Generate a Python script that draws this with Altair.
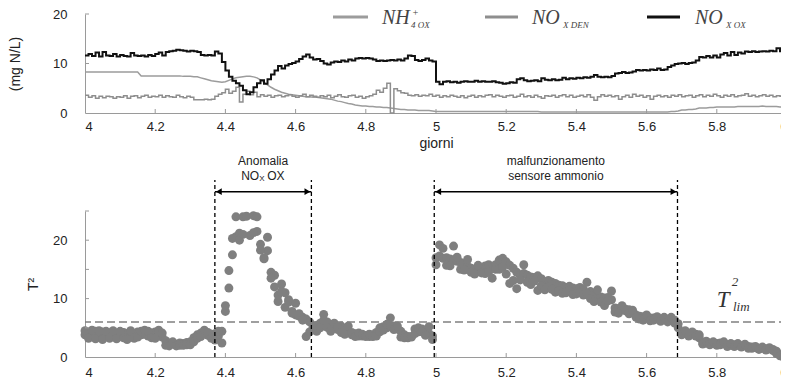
import altair as alt
import pandas as pd

# ---------------- data ----------------
days = [round(4 + 0.01 * i, 2) for i in range(201)]  # sampling times (giorni)

nh4_ox = [
    8.3, 8.3, 8.3, 8.3, 8.3, 8.3, 8.3, 8.3, 8.3, 8.3,
    8.3, 8.3, 8.3, 8.3, 8.3, 8.3, 7.5, 7.5, 7.5, 7.5,
    7.5, 7.5, 7.5, 7.5, 7.5, 7.5, 7.5, 7.5, 7.4, 7.4,
    7.4, 7.3, 7.3, 7.1, 6.9, 6.7, 6.5, 6.4, 6.3, 6.2,
    6.3, 6.6, 6.9, 7.1, 7.2, 7.3, 7.4, 7.4, 7.3, 7.1,
    6.7, 6.2, 5.7, 5.2, 4.8, 4.5, 4.2, 4.0, 3.8, 3.7,
    3.6, 3.5, 3.4, 3.3, 3.3, 3.2, 3.2, 3.1, 3.0, 2.9,
    2.8, 2.6, 2.4, 2.3, 2.1, 1.9, 1.8, 1.6, 1.5, 1.4,
    1.4, 1.3, 1.3, 1.2, 1.2, 1.1, 1.1, 1.0, 0.9, 0.8,
    0.7, 0.7, 0.6, 0.6, 0.6, 0.5, 0.5, 0.5, 0.5, 0.4,
    0.3, 0.3, 0.3, 0.3, 0.3, 0.3, 0.3, 0.3, 0.3, 0.3,
    0.3, 0.3, 0.3, 0.3, 0.3, 0.3, 0.3, 0.3, 0.3, 0.3,
    0.3, 0.3, 0.3, 0.3, 0.3, 0.3, 0.3, 0.3, 0.3, 0.3,
    0.2, 0.2, 0.2, 0.2, 0.2, 0.2, 0.2, 0.2, 0.2, 0.2,
    0.2, 0.2, 0.2, 0.2, 0.2, 0.2, 0.2, 0.2, 0.2, 0.2,
    0.2, 0.2, 0.2, 0.2, 0.2, 0.2, 0.2, 0.2, 0.2, 0.2,
    0.2, 0.2, 0.2, 0.2, 0.2, 0.2, 0.2, 0.3, 0.3, 0.4,
    0.6, 0.6, 0.7, 0.7, 0.8, 1.0, 1.0, 1.0, 1.1, 1.1,
    1.2, 1.2, 1.2, 1.2, 1.2, 1.2, 1.3, 1.3, 1.3, 1.3,
    1.3, 1.3, 1.3, 1.4, 1.3, 1.3, 1.3, 1.3, 1.2, 1.2,
    1.2,
]

nox_den = [
    3.6, 3.2, 3.5, 3.0, 3.4, 3.1, 3.4, 3.3, 3.0, 3.3,
    3.2, 3.5, 3.0, 3.4, 3.5, 3.1, 3.4, 3.6, 3.2, 3.4,
    3.3, 3.6, 3.2, 3.5, 3.3, 3.2, 3.6, 3.3, 3.1, 3.4,
    3.2, 2.7, 2.7, 2.7, 2.8, 2.7, 2.8, 3.4, 3.8, 4.1,
    4.8, 4.0, 4.4, 5.2, 2.2, 3.8, 4.4, 3.7, 4.2, 3.3,
    3.7, 3.4, 3.6, 3.2, 3.5, 3.6, 3.3, 3.5, 3.7, 3.4,
    3.2, 3.5, 3.8, 3.3, 3.6, 3.4, 3.2, 3.5, 3.3, 3.6,
    3.1, 3.4, 3.7, 3.3, 3.2, 3.5, 3.6, 3.2, 3.4, 3.0,
    3.3, 3.5, 3.8, 4.6, 4.2, 5.0, 6.0, 0.0, 4.9, 4.5,
    4.1, 4.0, 3.6, 3.5, 3.7, 3.4, 3.6, 3.5, 3.8, 3.4,
    3.6, 3.2, 3.5, 3.3, 3.6, 3.4, 3.2, 3.5, 3.1, 3.4,
    3.6, 3.2, 3.5, 3.3, 3.6, 3.7, 3.3, 3.6, 3.4, 3.2,
    3.5, 3.6, 3.2, 3.4, 3.8, 3.3, 3.5, 3.2, 3.6, 3.3,
    3.0, 3.5, 3.4, 3.6, 3.2, 3.5, 3.7, 3.3, 3.6, 3.2,
    3.4, 3.6, 3.3, 3.7, 3.2, 2.6, 3.3, 3.7, 3.4, 3.6,
    3.3, 3.5, 2.8, 3.3, 3.6, 3.2, 3.8, 3.4, 3.6, 3.2,
    3.5, 2.8, 3.4, 3.6, 3.3, 3.5, 3.2, 3.6, 3.4, 3.7,
    3.3, 3.5, 3.6, 3.2, 3.5, 3.7, 3.3, 3.6, 3.4, 3.8,
    3.5, 3.2, 3.6, 3.4, 3.7, 3.3, 3.5, 3.6, 3.9, 3.4,
    3.6, 3.3, 3.5, 3.7, 3.4, 3.6, 3.3, 3.5, 3.4, 3.6,
    3.3,
]

nox_ox = [
    11.6, 11.9, 11.5, 12.2, 11.4, 12.3, 11.6, 11.5, 11.9, 11.4,
    11.7, 11.5, 11.4, 12.1, 11.6, 11.5, 11.6, 11.4, 11.7, 11.5,
    11.9, 12.2, 11.6, 12.3, 12.5, 12.6, 12.8, 12.7, 12.6, 12.4,
    12.6, 12.5, 12.3, 11.7, 11.6, 11.7, 11.6, 12.4, 12.0, 10.3,
    8.6, 7.3, 6.5, 6.0, 5.5, 4.6, 3.8, 4.2, 5.2, 6.0,
    6.6, 5.9, 6.8, 7.8, 8.6, 9.5, 9.0, 9.6, 9.9, 10.1,
    10.4, 10.9, 11.4, 11.8, 11.2, 10.8, 10.9, 10.5, 10.0, 9.8,
    10.2, 10.4, 10.3, 10.6, 10.4, 10.8, 10.6, 11.0, 11.1, 11.0,
    11.1, 11.0, 10.8, 10.5, 10.6, 10.5, 10.6, 10.7, 10.6, 10.8,
    10.6, 11.0, 11.6, 11.5, 10.7, 10.5, 10.7, 11.0, 10.6, 10.4,
    6.3, 5.8, 6.3, 6.4, 6.2, 6.3, 6.1, 6.3, 6.4, 6.3,
    6.3, 6.5, 6.3, 6.4, 6.3, 6.3, 6.4, 6.2, 6.1, 5.9,
    6.0, 6.2, 6.1, 6.8, 7.0, 6.6, 6.4, 6.5, 6.6, 6.4,
    7.0, 6.7, 6.6, 6.8, 6.6, 6.7, 7.1, 6.8, 7.0, 6.9,
    7.1, 7.0, 7.2, 7.1, 7.3, 7.7, 7.3, 7.2, 7.3, 7.2,
    7.5, 8.0, 8.1, 8.3, 8.1, 8.2, 8.4, 8.7, 8.6, 8.7,
    8.6, 8.8, 8.7, 9.0, 8.7, 8.8, 9.3, 9.6, 9.9, 10.0,
    10.1, 9.9, 10.1, 10.2, 10.6, 11.3, 11.2, 11.5, 11.2, 11.6,
    11.2, 11.8, 12.1, 11.6, 12.3, 11.7, 12.2, 12.0, 12.4, 12.3,
    12.5, 12.3, 12.4, 12.5, 12.4, 12.6, 12.5, 13.1, 12.5, 12.5,
    12.5,
]

t2_a = [
    3.8, 4.2, 3.9, 4.4, 3.6, 4.3, 3.9, 4.1, 3.8, 4.0,
    3.6, 4.2, 4.0, 3.7, 3.9, 4.3, 3.8, 3.9, 3.6, 4.1,
    4.3, 3.9, 3.4, 2.8, 2.4, 2.3, 2.2, 2.4, 2.3, 2.5,
    2.6, 3.3, 3.8, 4.1, 4.2, 3.7, 3.9, 4.0, 3.6, 4.4,
    7.8, 11.8, 17.5, 20.6, 21.2, 24.0, 24.1, 20.8, 24.2, 21.5,
    19.3, 16.8, 18.2, 14.5, 14.0, 9.5, 12.5, 11.0, 9.8, 7.8,
    7.2, 7.0, 6.8, 6.5, 6.0, 5.0, 5.4, 5.8, 7.3, 6.0,
    5.3, 5.0, 4.7, 5.3, 4.5, 4.2, 3.8, 4.0, 3.6, 3.6,
    3.7, 3.5, 3.8, 4.2, 5.0, 5.2, 5.0, 6.7, 5.3, 4.8,
    4.4, 3.8, 3.3, 3.4, 4.8, 4.3, 4.8, 4.5, 4.0, 3.6,
    17.0, 17.3, 16.9, 17.0, 16.8, 16.6, 16.4, 16.2, 15.8, 15.5,
    15.2, 15.0, 14.6, 14.9, 15.6, 15.8, 15.4, 15.8, 16.6, 16.9,
    16.3, 15.7, 15.2, 14.5, 14.0, 14.3, 14.0, 13.7, 13.6, 13.9,
    13.4, 12.9, 13.1, 12.8, 12.6, 12.3, 12.2, 11.9, 12.1, 11.8,
    11.7, 11.9, 11.6, 12.8, 11.2, 10.5, 10.2, 10.3, 10.1, 10.2,
    9.8, 8.4, 8.3, 8.3, 8.2, 8.1, 7.6, 7.2, 7.0, 6.9,
    6.8, 6.7, 6.7, 6.6, 6.5, 6.5, 6.4, 6.4, 6.3, 5.0,
    4.2, 4.1, 4.0, 4.0, 3.9, 3.3, 2.5, 2.4, 2.4, 2.3,
    2.3, 2.4, 2.3, 2.1, 2.0, 2.1, 2.0, 1.9, 2.0, 1.8,
    1.7, 1.6, 1.5, 1.5, 1.4, 1.4, 1.3, 1.0, 0.4, 0.3,
    0.2,
]

t2_b = [
    4.5, 3.2, 4.6, 3.1, 4.5, 3.0, 4.4, 3.2, 4.5, 3.1,
    4.4, 3.3, 3.0, 4.5, 3.2, 3.4, 4.4, 4.6, 4.4, 3.3,
    3.2, 4.6, 4.1, 2.0, 1.9, 2.6, 1.9, 2.0, 2.0, 2.1,
    2.1, 2.6, 3.2, 3.5, 4.6, 4.2, 3.2, 2.9, 4.4, 2.4,
    8.8, 14.8, 20.3, 24.0, 20.0, 21.0, None, None, 21.3, 24.0,
    18.3, 17.0, 20.5, 13.5, 12.0, 10.6, 11.2, 8.5, 9.4, 7.5,
    9.2, 7.4, 6.3, 3.5, 4.3, 5.2, 4.4, 5.0, 6.3, 5.1,
    4.4, 5.8, 5.2, 4.2, 3.9, 5.3, 4.2, 3.5, 4.1, 3.9,
    3.5, 3.9, 3.5, 3.6, 4.3, 4.6, 5.6, 5.4, 4.7, 5.3,
    3.4, 3.3, 3.5, 3.5, 4.0, 5.0, 4.3, 3.7, 5.2, 3.0,
    15.8, 19.2, 18.6, 15.7, 15.6, 19.0, 17.1, 15.0, 14.9, 16.7,
    14.5, 14.2, 15.7, 14.4, 14.3, 14.6, 13.5, 15.0, 15.0, 15.4,
    14.2, 12.6, 13.1, 11.7, 13.2, 15.8, 12.8, 12.4, 13.0, 11.4,
    12.2, 11.5, 12.0, 11.6, 11.1, 11.3, 10.9, 11.0, 11.3, 10.7,
    10.8, 11.0, 10.6, 10.9, 10.0, 9.5, 11.5, 9.4, 8.8, 9.6,
    11.3, 7.7, 7.5, 8.8, 7.9, 7.4, 8.0, 6.8, 6.5, 6.3,
    7.2, 6.2, 6.3, 6.9, 6.1, 6.8, 6.0, 6.8, 5.8, 5.7,
    3.8, 4.5, 3.6, 4.3, 3.6, 3.8, 2.2, 2.7, 2.1, 2.6,
    2.0, 2.1, 2.6, 1.8, 2.3, 1.8, 2.3, 1.7, 2.2, 1.5,
    1.5, 1.8, 1.3, 1.7, 1.2, 1.6, 1.1, 0.6, 0.2, 0.0,
    0.0,
]

t2_lim = 6.0
event_bounds = [4.37, 4.645, 4.995, 5.688]
event_labels_top = ["Anomalia", "malfunzionamento"]
event_labels_bottom = ["", "sensore ammonio"]
x_ticks = [4, 4.2, 4.4, 4.6, 4.8, 5, 5.2, 5.4, 5.6, 5.8, 6]
y_ticks_top = [0, 10, 20]
y_ticks_bottom = [0, 5, 10, 15, 20, 25]

# ---------------- layout constants ----------------
W = 702
H1 = 99
H2 = 146
AX = "#9a9a9a"
SANS = "Liberation Sans"
SERIF = "Liberation Serif"

xscale = alt.Scale(domain=[4, 6], nice=False, zero=False)
yscale_top = alt.Scale(domain=[0, 20], nice=False)
yscale_bot = alt.Scale(domain=[0, 25], nice=False)


def txt(text, x, y, size, font=SERIF, style="italic", align="left", color="#444", baseline="alphabetic"):
    return alt.Chart(pd.DataFrame({"t": [text]})).mark_text(
        font=font, fontStyle=style, fontSize=size, align=align, baseline=baseline, color=color
    ).encode(text="t:N", x=alt.value(x), y=alt.value(y))


def legend_line(x1, x2, y, color):
    return alt.Chart(pd.DataFrame({"a": [0]})).mark_rule(color=color, strokeWidth=3).encode(
        x=alt.value(x1), x2=alt.value(x2), y=alt.value(y)
    )


def X(field):
    return alt.X(f"{field}:Q", scale=xscale)


def YT(field):
    return alt.Y(f"{field}:Q", scale=yscale_top)


def YB(field):
    return alt.Y(f"{field}:Q", scale=yscale_bot)


# ---------------- top panel ----------------
top_df = pd.DataFrame({"giorni": days, "nh4": nh4_ox, "den": nox_den, "ox": nox_ox})

line_nh4 = alt.Chart(top_df).mark_line(color="#9c9c9c", strokeWidth=1.5).encode(
    x=alt.X("giorni:Q", scale=xscale,
            axis=alt.Axis(values=x_ticks, format="~g", title="giorni", labelPadding=7, titlePadding=3)),
    y=alt.Y("nh4:Q", scale=yscale_top,
            axis=alt.Axis(values=y_ticks_top, title="(mg N/L)", labelPadding=18, titlePadding=30,
                          labelOverlap=False)),
)
line_den = alt.Chart(top_df).mark_line(color="#8e8e8e", strokeWidth=1.5, interpolate="step-after").encode(
    x=X("giorni"), y=YT("den")
)
line_ox = alt.Chart(top_df).mark_line(color="#111111", strokeWidth=2, interpolate="step-after").encode(
    x=X("giorni"), y=YT("ox")
)

xt_top = alt.Chart(pd.DataFrame({"v": x_ticks[1:-1]})).mark_rule(color=AX).encode(
    x=X("v"), y=alt.value(H1), y2=alt.value(H1 - 4)
)
yt_top = alt.Chart(pd.DataFrame({"v": y_ticks_top[1:]})).mark_rule(color=AX).encode(
    y=YT("v"), x=alt.value(0), x2=alt.value(4)
)

legend = [
    legend_line(248, 283, 3, "#9c9c9c"),
    txt("NH", 297, 10, 20),
    txt("+", 327, 2, 10),
    txt("4 OX", 326, 14, 9),
    legend_line(400, 433, 3, "#8e8e8e"),
    txt("NO", 447, 10, 20),
    txt("X DEN", 478, 14, 9),
    legend_line(562, 595, 3, "#111111"),
    txt("NO", 610, 10, 20),
    txt("X OX", 641, 14, 9),
]

top = alt.layer(line_nh4, line_den, line_ox, xt_top, yt_top, *legend).properties(width=W, height=H1)

# ---------------- bottom panel ----------------
t2_rows = [(d, v) for d, v in zip(days, t2_a)] + [(d, v) for d, v in zip(days, t2_b) if v is not None]
t2_df = pd.DataFrame(t2_rows, columns=["giorni", "t2"])

points = alt.Chart(t2_df).mark_circle(size=80, color="#7f7f7f", opacity=1).encode(
    x=alt.X("giorni:Q", scale=xscale, axis=alt.Axis(values=x_ticks, format="~g", title=None, labelPadding=9)),
    y=alt.Y("t2:Q", scale=yscale_bot,
            axis=alt.Axis(values=y_ticks_bottom, title="T²", labelPadding=18, titlePadding=12,
                          labelOverlap=False)),
)

lim_rule = alt.Chart(pd.DataFrame({"lim": [t2_lim]})).mark_rule(
    color="#808080", strokeDash=[8, 4], strokeWidth=1.4
).encode(y=YB("lim"))

ann_top_val = 30.3
vlines = alt.Chart(pd.DataFrame({"x": event_bounds, "y0": [0] * 4, "y1": [ann_top_val] * 4})).mark_rule(
    color="black", strokeDash=[4, 3], strokeWidth=1.3
).encode(x=X("x"), y=YB("y0"), y2="y1:Q")

arrow_y = 28.3
arrows_df = pd.DataFrame({"a": event_bounds[0::2], "b": event_bounds[1::2], "y": [arrow_y] * 2})
arrow_shaft = alt.Chart(arrows_df).mark_rule(color="black", strokeWidth=1.3).encode(
    x=X("a"), x2="b:Q", y=YB("y")
)
arrow_l = alt.Chart(arrows_df).mark_point(shape="triangle-left", filled=True, size=45, color="black",
                                          opacity=1, xOffset=4).encode(x=X("a"), y=YB("y"))
arrow_r = alt.Chart(arrows_df).mark_point(shape="triangle-right", filled=True, size=45, color="black",
                                          opacity=1, xOffset=-4).encode(x=X("b"), y=YB("y"))

centers = [(event_bounds[0] + event_bounds[1]) / 2, (event_bounds[2] + event_bounds[3]) / 2]
lab_df = pd.DataFrame({"x": centers, "top": event_labels_top, "bot": event_labels_bottom,
                       "y1": [33.56, 33.56], "y2": [30.99, 30.99]})
lab_top = alt.Chart(lab_df).mark_text(font=SANS, fontSize=12, color="#222", baseline="middle").encode(
    x=X("x"), y=YB("y1"), text="top:N"
)
lab_bot = alt.Chart(lab_df).mark_text(font=SANS, fontSize=12, color="#222", baseline="middle").encode(
    x=X("x"), y=YB("y2"), text="bot:N"
)


def data_text(text, x, y, size, dx=0, dy=0, font=SANS, style="normal", align="left", color="#222"):
    return alt.Chart(pd.DataFrame({"t": [text], "x": [x], "y": [y]})).mark_text(
        font=font, fontStyle=style, fontSize=size, align=align, baseline="middle", color=color, dx=dx, dy=dy
    ).encode(x=X("x"), y=YB("y"), text="t:N")


nox_lab = [
    data_text("NO", centers[0], 30.99, 12, dx=-22),
    data_text("X", centers[0], 30.99, 8, dx=-4, dy=3),
    data_text("OX", centers[0], 30.99, 12, dx=4),
]

tlim = [
    data_text("T", 5.818, 9.76, 23, font=SERIF, style="italic", align="center", color="#333"),
    data_text("2", 5.852, 12.8, 13, font=SERIF, style="italic", align="center", color="#333"),
    data_text("lim", 5.846, 8.6, 13, font=SERIF, style="italic", align="left", color="#333"),
]

xt_bot = alt.Chart(pd.DataFrame({"v": x_ticks[1:-1]})).mark_rule(color=AX).encode(
    x=X("v"), y=alt.value(H2), y2=alt.value(H2 - 4)
)
yt_bot = alt.Chart(pd.DataFrame({"v": y_ticks_bottom[1:]})).mark_rule(color=AX).encode(
    y=YB("v"), x=alt.value(0), x2=alt.value(4)
)

bottom = alt.layer(
    points, lim_rule, vlines, arrow_shaft, arrow_l, arrow_r, lab_top, lab_bot, *nox_lab, *tlim, xt_bot, yt_bot
).properties(width=W, height=H2)

chart = (
    alt.vconcat(top, bottom, spacing=5)
    .properties(padding={"left": 0, "top": 0, "right": -11, "bottom": 0})
    .configure_view(stroke=None)
    .configure_axis(
        domainColor=AX, grid=False, ticks=False,
        labelFont=SANS, labelFontSize=13, labelColor="#222",
        titleFont=SANS, titleFontSize=14, titleFontWeight="normal", titleColor="#222",
    )
)

chart.save("out.html", embed_options={"renderer": "svg", "actions": False})
